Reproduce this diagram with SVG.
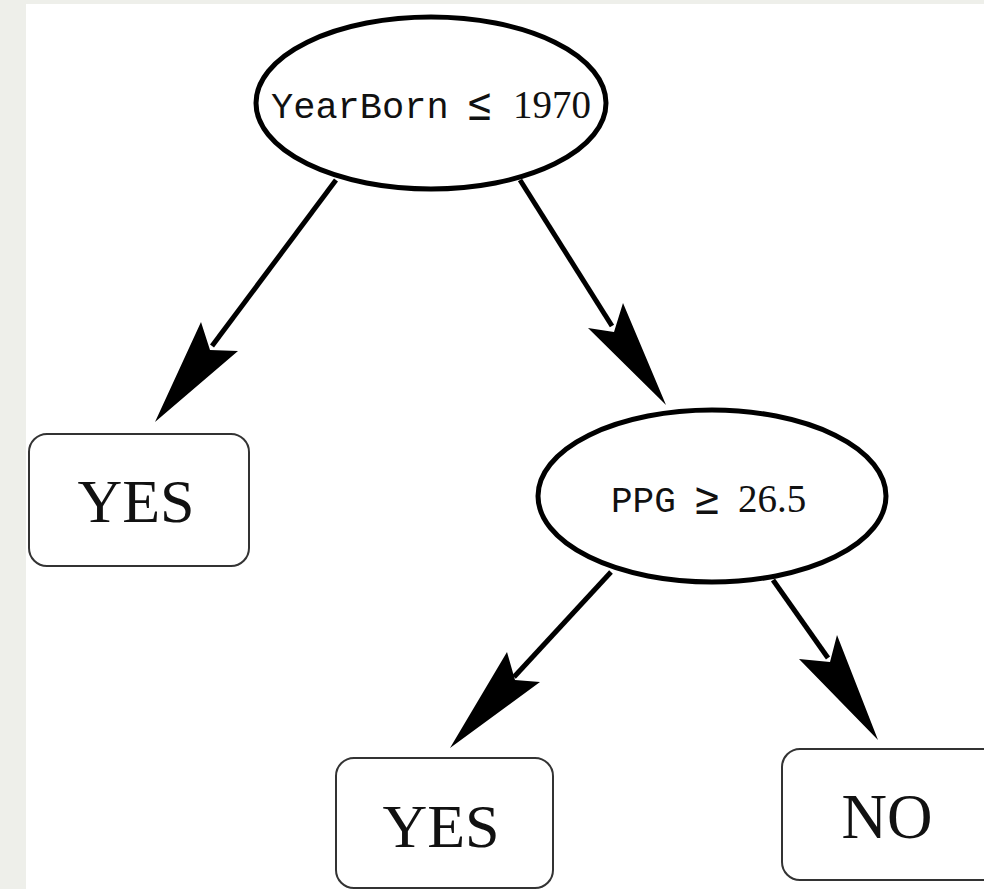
<svg xmlns="http://www.w3.org/2000/svg" width="984" height="889" viewBox="0 0 984 889">
<style>
.ell{fill:#fff;stroke:#000;stroke-width:5}
.box{fill:#fff;stroke:#333;stroke-width:2}
.mono{font-family:"Liberation Mono","DejaVu Sans Mono",monospace;fill:#111}
.ser{font-family:"Liberation Serif","DejaVu Serif",serif;fill:#111}
.sym{font-family:"DejaVu Serif","Liberation Serif",serif;fill:#111}
.edge{stroke:#000;stroke-width:5;fill:none}
.head{fill:#000;stroke:none}
</style>
<rect x="0" y="0" width="984" height="889" fill="#eeefea"/>
<rect x="26" y="4" width="958" height="885" fill="#fff"/>
<g id="connectors">
<line class="edge" x1="336" y1="180" x2="212" y2="346"/>
<polygon class="head" points="155,422 201,322 210,350 238,351"/>
<line class="edge" x1="520" y1="180" x2="612" y2="326"/>
<polygon class="head" points="666,405 588,328 614,332 623,303"/>
<line class="edge" x1="611" y1="572" x2="514" y2="677"/>
<polygon class="head" points="450,748 507,652 515,680 540,682"/>
<line class="edge" x1="773" y1="580" x2="828" y2="658"/>
<polygon class="head" points="878,740 799,659 830,662 837,635"/>
</g>
<g id="root">
<ellipse class="ell" cx="431" cy="103" rx="175" ry="86"/>
<text class="mono" x="271" y="118" font-size="37">YearBorn</text>
<text class="sym" x="466" y="120" font-size="46" textLength="27" lengthAdjust="spacingAndGlyphs">≤</text>
<text class="ser" x="513" y="118" font-size="39">1970</text>
</g>
<g id="ppg">
<ellipse class="ell" cx="712" cy="496" rx="174" ry="86"/>
<text class="mono" x="611" y="512" font-size="36">PPG</text>
<text class="sym" x="693" y="514" font-size="46" textLength="28" lengthAdjust="spacingAndGlyphs">≥</text>
<text class="ser" x="738" y="512" font-size="39">26.5</text>
</g>
<g id="yes1">
<rect class="box" x="29" y="434" width="220" height="132" rx="18"/>
<text class="ser" x="136" y="522" font-size="62" text-anchor="middle">YES</text>
</g>
<g id="yes2">
<rect class="box" x="336" y="758" width="217" height="130" rx="18"/>
<text class="ser" x="441" y="847" font-size="62" text-anchor="middle">YES</text>
</g>
<g id="no">
<rect class="box" x="782" y="749" width="220" height="131" rx="18"/>
<text class="ser" x="887" y="838" font-size="63" text-anchor="middle">NO</text>
</g>
</svg>
